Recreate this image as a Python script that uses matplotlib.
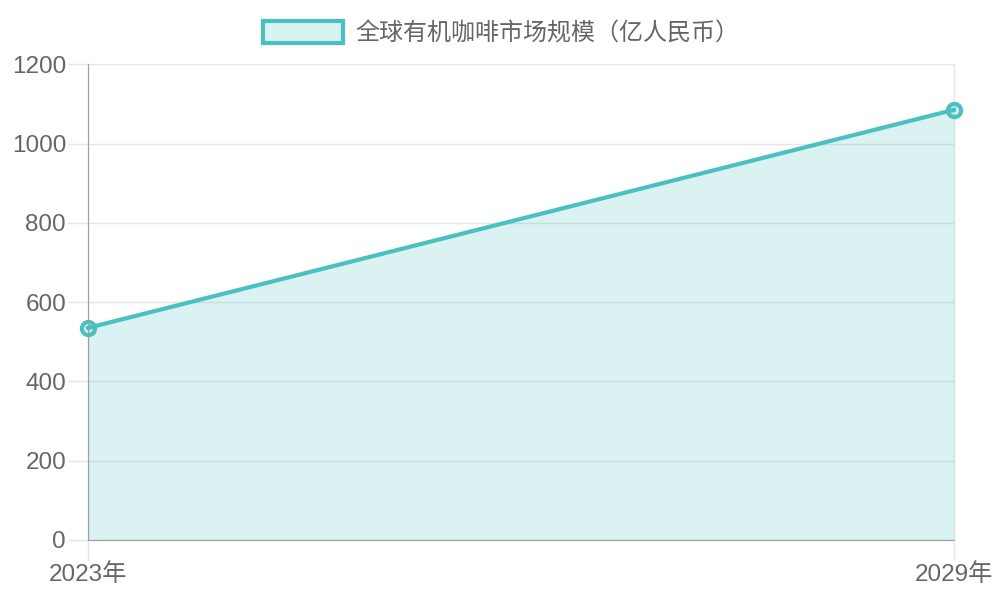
import matplotlib
matplotlib.use("Agg")
import matplotlib.pyplot as plt
from matplotlib.patches import Patch

plt.rcParams['font.family'] = ['Liberation Sans', 'Noto Sans CJK SC', 'DejaVu Sans']

categories = ["2023年", "2029年"]
values = [535, 1085]
series_label = "全球有机咖啡市场规模（亿人民币）"
yticks = [0, 200, 400, 600, 800, 1000, 1200]

line_color = "#4BC0C0"
fill_color = (75/255, 192/255, 192/255, 0.2)
grid_color = "#e5e5e5"
axis_color = "#9e9e9e"

fig = plt.figure(figsize=(10, 6), dpi=100)
ax = fig.add_axes([0.088, 0.1, 0.866, 0.793])

x = list(range(len(categories)))
ax.fill_between(x, values, 0, color=fill_color, linewidth=0)
ax.plot(x, values, color=line_color, linewidth=3, marker='o', markersize=9.5,
        markerfacecolor=fill_color, markeredgecolor=line_color, markeredgewidth=3,
        clip_on=False, zorder=5)

ax.set_xlim(0, len(categories) - 1)
ax.set_ylim(0, 1200)
ax.set_yticks(yticks)
ax.set_xticks(x)
ax.set_xticklabels(categories)

ax.grid(True, axis='both', color=grid_color, linewidth=1)
ax.set_axisbelow(True)
for gl in ax.xaxis.get_gridlines():
    gl.set_clip_on(False)
for s in ['top', 'right']:
    ax.spines[s].set_visible(False)
ax.spines['left'].set_color(axis_color)
ax.spines['bottom'].set_color(axis_color)
ax.spines['left'].set_zorder(6)
ax.spines['bottom'].set_zorder(6)
ax.tick_params(axis='y', length=14.4, width=1, color=grid_color, labelsize=17.5, labelcolor='#666666', pad=1.4)
ax.tick_params(axis='x', length=14.4, width=1, color=grid_color, labelsize=17.5, labelcolor='#666666', pad=2)
ax.yaxis.get_major_ticks()[0].tick1line.set_color(axis_color)
ax.xaxis.get_major_ticks()[0].tick1line.set_color(axis_color)

handle = Patch(facecolor=fill_color, edgecolor=line_color, linewidth=3)
leg = fig.legend([handle], [series_label], loc='center', bbox_to_anchor=(0.501, 0.945),
                 frameon=False, fontsize=17.3, handlelength=3.37, handleheight=1.0,
                 handletextpad=0.5, labelcolor='#666666', borderpad=0, borderaxespad=0)

fig.savefig("out.png", dpi=100)
